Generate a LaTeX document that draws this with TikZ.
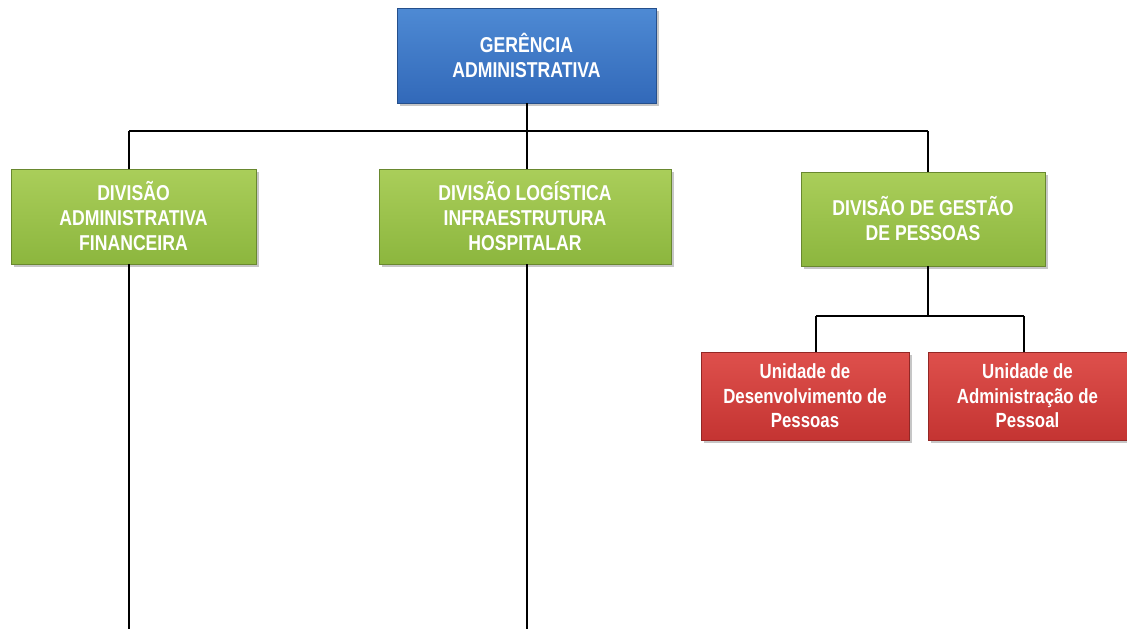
\documentclass[tikz,border=0pt]{standalone}
\usepackage{fontspec}
\setmainfont{Liberation Sans}[FakeStretch=0.82]
\usetikzlibrary{shadows}

\definecolor{azul}{RGB}{50,105,185}
\definecolor{azulclaro}{RGB}{78,138,212}
\definecolor{verde}{RGB}{140,182,62}
\definecolor{verdeclaro}{RGB}{170,206,90}
\definecolor{vermelho}{RGB}{196,52,50}
\definecolor{vermelhoclaro}{RGB}{222,80,76}

\begin{document}
\begin{tikzpicture}[x=1pt, y=-1pt,
    every node/.style={rectangle, align=center, text=white, inner sep=0pt,
      font=\fontsize{21.5}{25}\selectfont\bfseries,
      drop shadow={opacity=0.45, shadow xshift=3pt, shadow yshift=-3pt}},
    gerencia/.style={draw=azul!75!black, top color=azulclaro, bottom color=azul,
      minimum width=259pt, minimum height=95pt},
    divisao/.style={draw=verde!75!black, top color=verdeclaro, bottom color=verde,
      minimum height=95pt},
    unidade/.style={draw=vermelho!75!black, top color=vermelhoclaro, bottom color=vermelho,
      minimum height=88pt, font=\fontsize{20.5}{24.5}\selectfont\bfseries},
    linha/.style={draw=black, line width=1.6pt},
  ]
  \useasboundingbox (0,0) rectangle (1127,629);

  % caixas
  \node[gerencia] (ger) at (526.5,55.5) {GERÊNCIA\\ADMINISTRATIVA};
  \node[divisao, minimum width=245pt] (dafin) at (133.5,216.5) {DIVISÃO\\ADMINISTRATIVA\\FINANCEIRA};
  \node[divisao, minimum width=292pt] (dlog) at (525,216.5) {DIVISÃO LOGÍSTICA\\INFRAESTRUTURA\\HOSPITALAR};
  \node[divisao, minimum width=244pt, minimum height=94pt] (dgp) at (923,219) {DIVISÃO DE GESTÃO\\DE PESSOAS};
  \node[unidade, minimum width=208pt] (udp) at (805,396) {Unidade de\\Desenvolvimento de\\Pessoas};
  \node[unidade, minimum width=199pt] (uap) at (1027.5,396) {Unidade de\\Administração de\\Pessoal};

  % ligacoes
  \coordinate (b1) at (129,131);
  \coordinate (b2) at (527,131);
  \coordinate (b3) at (928,131);
  \coordinate (c1) at (816,316);
  \coordinate (c2) at (1024,316);
  \coordinate (fim1) at (129,629);
  \coordinate (fim2) at (527,629);

  \draw[linha] (b1) -- (b3);
  \draw[linha] (b2 |- ger.south) -- (b2);
  \draw[linha] (b1) -- (b1 |- dafin.north);
  \draw[linha] (b2) -- (b2 |- dlog.north);
  \draw[linha] (b3) -- (b3 |- dgp.north);
  \draw[linha] (fim1 |- dafin.south) -- (fim1);
  \draw[linha] (fim2 |- dlog.south) -- (fim2);
  \draw[linha] (b3 |- dgp.south) -- (b3 |- c1);
  \draw[linha] (c1) -- (c2);
  \draw[linha] (c1) -- (c1 |- udp.north);
  \draw[linha] (c2) -- (c2 |- uap.north);
\end{tikzpicture}
\end{document}
